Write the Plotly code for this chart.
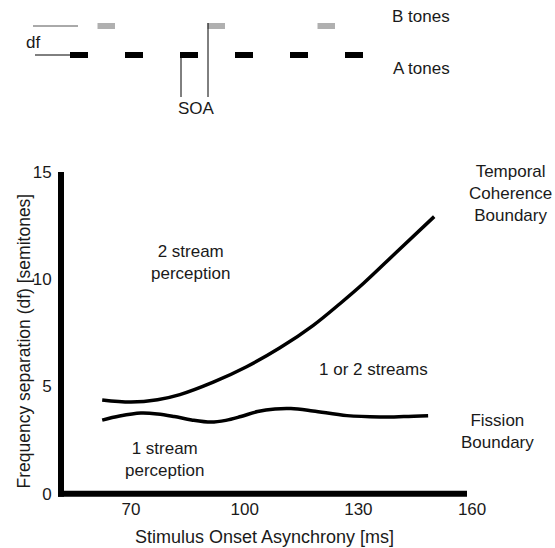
import plotly.graph_objects as go

# ---------------- data ----------------
soa_tcb = [62.4, 70, 77, 82.9, 91.7, 100.5, 109.3, 118.1, 125.2, 131.3, 140.1, 150.0]
df_tcb = [4.37, 4.27, 4.38, 4.62, 5.2, 5.92, 6.8, 7.85, 8.87, 9.8, 11.27, 12.92]

soa_fission = [62.4, 67, 72.6, 77, 81.4, 86, 91.1, 95, 99, 103.4, 108, 112.2, 118, 127, 135.7, 142, 148.4]
df_fission = [3.43, 3.62, 3.76, 3.72, 3.6, 3.44, 3.34, 3.42, 3.6, 3.83, 3.95, 3.97, 3.86, 3.64, 3.58, 3.6, 3.64]

x_ticks = [70, 100, 130, 160]
y_ticks = [0, 5, 10, 15]

# schematic tone sequence (in units of the A-tone period)
a_tone_slots = [0, 1, 2, 3, 4, 5]
b_tone_slots = [0.5, 2.5, 4.5]

# ---------------- layout helpers ----------------
W, H = 555, 548
L, R, T, B = 61, 79, 160, 48
PW, PH = W - L - R, H - T - B
X_RANGE = [51.53, 161.03]
Y_RANGE = [-0.294, 15.56]


def px(x):
    return (x - L) / PW


def py(y):
    return (H - B - y) / PH


FONT = "Liberation Sans, Arial, sans-serif"
TXT = "#1a1a1a"

fig = go.Figure()
fig.add_trace(go.Scatter(x=soa_tcb, y=df_tcb, mode="lines",
                         line=dict(color="black", width=3.5, shape="spline", smoothing=1.0),
                         hoverinfo="skip", showlegend=False))
fig.add_trace(go.Scatter(x=soa_fission, y=df_fission, mode="lines",
                         line=dict(color="black", width=3.5, shape="spline", smoothing=1.0),
                         hoverinfo="skip", showlegend=False))

shapes = []
# thick axis lines
shapes.append(dict(type="line", xref="paper", yref="paper",
                   x0=px(61), x1=px(61), y0=py(496.7), y1=py(172),
                   line=dict(color="black", width=6)))
shapes.append(dict(type="line", xref="paper", yref="paper",
                   x0=px(58), x1=px(467), y0=py(493.7), y1=py(493.7),
                   line=dict(color="black", width=6)))

# schematic
period = 55
a0 = 70
for s in a_tone_slots:
    shapes.append(dict(type="rect", xref="paper", yref="paper",
                       x0=px(a0 + period * s), x1=px(a0 + period * s + 18),
                       y0=py(58), y1=py(52), fillcolor="black", line=dict(width=0)))
for s in b_tone_slots:
    shapes.append(dict(type="rect", xref="paper", yref="paper",
                       x0=px(a0 + period * s), x1=px(a0 + period * s + 17.5),
                       y0=py(29), y1=py(23), fillcolor="#b0b0b0", line=dict(width=0)))
# df reference lines
shapes.append(dict(type="line", xref="paper", yref="paper",
                   x0=px(33), x1=px(78), y0=py(26), y1=py(26),
                   line=dict(color="#555555", width=1)))
shapes.append(dict(type="line", xref="paper", yref="paper",
                   x0=px(35), x1=px(70), y0=py(55), y1=py(55),
                   line=dict(color="black", width=1)))
# SOA markers
shapes.append(dict(type="line", xref="paper", yref="paper",
                   x0=px(181), x1=px(181), y0=py(55), y1=py(97),
                   line=dict(color="black", width=1)))
shapes.append(dict(type="line", xref="paper", yref="paper",
                   x0=px(208), x1=px(208), y0=py(23), y1=py(97),
                   line=dict(color="black", width=1)))

annotations = []


def note(text, x, y, size=17, angle=0):
    annotations.append(dict(text=text, xref="paper", yref="paper", x=px(x), y=py(y),
                            xanchor="center", yanchor="middle", showarrow=False,
                            textangle=angle, align="center",
                            font=dict(family=FONT, size=size, color=TXT)))


note("B tones", 421, 17)
note("A tones", 421, 68)
note("df", 33, 43)
note("SOA", 196, 108)
note("2 stream<br>perception", 190, 262)
note("1 stream<br>perception", 164, 459)
note("1 or 2 streams", 373, 369)
note("Temporal<br>Coherence<br>Boundary", 510, 193)
note("Fission<br>Boundary", 497, 431)
note("Stimulus Onset Asynchrony [ms]", 264, 537, size=18)
note("Frequency separation (df) [semitones]", 23.5, 341, size=17.5, angle=-90)

fig.update_layout(
    width=W, height=H, autosize=False,
    margin=dict(l=L, r=R, t=T, b=B, pad=0),
    paper_bgcolor="white", plot_bgcolor="white",
    shapes=shapes, annotations=annotations,
    font=dict(family=FONT, size=17, color=TXT),
    xaxis=dict(range=X_RANGE, tickvals=x_ticks, ticktext=[str(v) for v in x_ticks],
               showgrid=False, zeroline=False, showline=False,
               ticks="", ticklabelstandoff=-3,
               tickfont=dict(family=FONT, size=17, color=TXT), fixedrange=True),
    yaxis=dict(range=Y_RANGE, tickvals=y_ticks, ticktext=[str(v) for v in y_ticks],
               showgrid=False, zeroline=False, showline=False,
               ticks="outside", ticklen=5, tickcolor="rgba(0,0,0,0)",
               tickfont=dict(family=FONT, size=17, color=TXT), fixedrange=True),
    showlegend=False,
)

fig.write_html("out.html")
